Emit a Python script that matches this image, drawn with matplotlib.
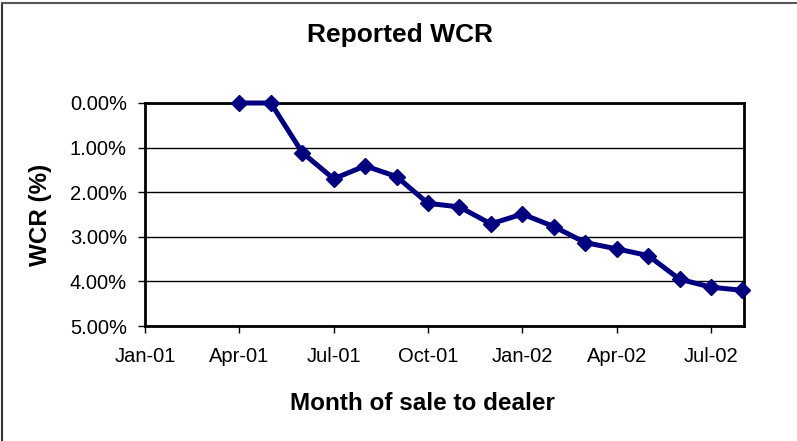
#! /usr/bin/env python

import matplotlib
matplotlib.use('Agg')
import matplotlib.pyplot as plt
from matplotlib.lines import Line2D


# data (month index 0 = Jan-01)
months = ['Apr-01', 'May-01', 'Jun-01', 'Jul-01', 'Aug-01', 'Sep-01',
          'Oct-01', 'Nov-01', 'Dec-01', 'Jan-02', 'Feb-02', 'Mar-02',
          'Apr-02', 'May-02', 'Jun-02', 'Jul-02', 'Aug-02']
month_index = [3, 4, 5, 6, 7, 8, 9, 10, 11, 12, 13, 14, 15, 16, 17, 18, 19]
wcr = [0.00, 0.00, 1.11, 1.70, 1.41, 1.65, 2.25, 2.33, 2.71, 2.49, 2.77,
       3.13, 3.27, 3.42, 3.95, 4.13, 4.20]

tick_pos = [0, 3, 6, 9, 12, 15, 18]
tick_labels = ['Jan-01', 'Apr-01', 'Jul-01', 'Oct-01', 'Jan-02', 'Apr-02',
               'Jul-02']
y_ticks = [0, 1, 2, 3, 4, 5]


def main():
    plt.rcParams['font.family'] = ['Liberation Sans', 'DejaVu Sans']

    fig = plt.figure(figsize=(7.97, 4.41), dpi=100)
    ax = fig.add_axes([145 / 797, 1 - 326 / 441, 599 / 797, 223 / 441])

    ax.plot(month_index, wcr, color='#000080', linewidth=3.6,
            marker='D', markersize=8, zorder=3, clip_on=False)

    ax.set_xlim(0, 19.05)
    ax.set_ylim(5, 0)
    ax.set_yticks(y_ticks)
    ax.set_yticklabels([f'{v:.2f}%' for v in y_ticks])
    ax.set_xticks(tick_pos)
    ax.set_xticklabels(tick_labels)
    ax.tick_params(direction='out', length=5, width=1, labelsize=14.5,
                   colors='black')
    ax.tick_params(axis='y', pad=8)
    ax.tick_params(axis='x', pad=10)

    ax.yaxis.grid(True, color='black', linewidth=1)
    ax.set_axisbelow(True)
    for sp in ax.spines.values():
        sp.set_linewidth(2)
        sp.set_color('black')

    fig.text(400 / 797, 1 - 35 / 441, 'Reported WCR', ha='center',
             va='center', fontsize=19, fontweight='bold')
    fig.text(422 / 797, 1 - 404 / 441, 'Month of sale to dealer',
             ha='center', va='center', fontsize=17.5, fontweight='bold')
    fig.text(40 / 797, 1 - 215 / 441, 'WCR (%)', ha='center', va='center',
             rotation=90, fontsize=17.5, fontweight='bold')

    # chart area border (top and left visible)
    fig.add_artist(Line2D([2 / 797, 2 / 797], [0, 1 - 3 / 441],
                          transform=fig.transFigure, color='#333333',
                          linewidth=1.5))
    fig.add_artist(Line2D([2 / 797, 1], [1 - 3 / 441, 1 - 3 / 441],
                          transform=fig.transFigure, color='#555555',
                          linewidth=1.5))

    fig.savefig('out.png', dpi=100)


if __name__ == "__main__":
    main()
